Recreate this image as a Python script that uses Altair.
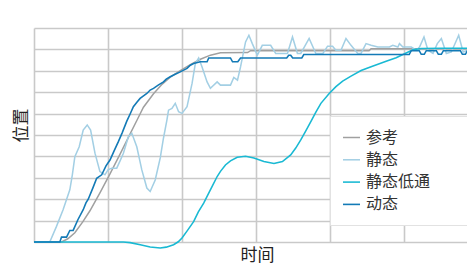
import altair as alt
import pandas as pd

series_names = ["参考", "静态", "静态低通", "动态"]
series_colors = ["#a0a0a0", "#a3cfe4", "#19b9d3", "#137ab6"]
series_widths = [1.5, 1.6, 1.5, 2.5]

ref_t = [0.000, 0.372, 0.457, 0.552, 0.661, 0.756, 0.891, 1.027, 1.163, 1.299, 1.393,
         1.479, 1.615, 1.733, 1.841, 1.977, 2.113, 2.248, 2.384, 2.520, 2.886, 2.927,
         4.528, 4.555, 5.993]
ref_v = [0.00, 0.00, 0.15, 0.43, 0.95, 1.46, 2.30, 3.18, 4.11, 5.05, 5.70,
         6.30, 6.93, 7.38, 7.70, 8.01, 8.29, 8.54, 8.73, 8.84, 8.85, 8.94,
         8.94, 9.03, 9.03]

static_t = [0.000, 0.213, 0.304, 0.393, 0.484, 0.518, 0.552, 0.611, 0.665, 0.719, 0.765,
            0.824, 0.891, 0.959, 1.000, 1.050, 1.118, 1.163, 1.208, 1.275, 1.322, 1.389,
            1.457, 1.525, 1.570, 1.638, 1.706, 1.750, 1.796, 1.818, 1.864, 1.909, 1.954,
            2.000, 2.068, 2.136, 2.180, 2.225, 2.271, 2.339, 2.384, 2.475, 2.520, 2.655,
            2.700, 2.750, 2.791, 2.859, 2.904, 2.950, 3.018, 3.085, 3.198, 3.266, 3.425,
            3.493, 3.560, 3.605, 3.718, 3.809, 3.904, 3.967, 4.035, 4.079, 4.148, 4.216,
            4.284, 4.375, 4.419, 4.487, 4.555, 4.646, 4.803, 4.849, 4.917, 4.939, 4.985,
            5.098, 5.166, 5.210, 5.270, 5.324, 5.392, 5.450, 5.505, 5.572, 5.640, 5.739,
            5.799, 5.867, 5.993]
static_v = [0.00, 0.00, 0.73, 1.51, 2.44, 3.14, 3.99, 4.45, 5.23, 5.47, 5.23,
            4.15, 3.29, 3.14, 3.37, 3.45, 3.45, 3.79, 4.15, 4.92, 5.08, 4.45,
            3.37, 2.52, 2.36, 2.90, 3.93, 4.86, 5.70, 6.16, 6.24, 6.48, 6.09,
            6.01, 6.32, 7.41, 8.34, 8.60, 8.18, 7.48, 7.18, 7.48, 7.33, 7.33,
            7.69, 7.56, 8.18, 9.35, 9.66, 9.27, 8.73, 9.19, 9.19, 8.81, 8.81,
            9.58, 8.81, 8.81, 9.51, 8.81, 8.81, 9.15, 9.15, 8.96, 8.96, 9.51,
            9.19, 8.81, 8.81, 9.27, 9.19, 9.11, 9.11, 9.19, 9.11, 9.27, 9.11,
            9.11, 8.96, 9.11, 9.58, 8.96, 8.81, 9.27, 9.51, 8.81, 8.88, 9.66,
            8.88, 8.96, 9.04]

lowpass_t = [0.000, 1.208, 1.299, 1.436, 1.570, 1.706, 1.787, 1.886, 1.950, 2.000, 2.072,
             2.157, 2.221, 2.293, 2.361, 2.411, 2.475, 2.520, 2.587, 2.655, 2.746, 2.859,
             2.972, 3.107, 3.243, 3.357, 3.469, 3.537, 3.605, 3.673, 3.741, 3.809, 3.877,
             3.989, 4.080, 4.171, 4.284, 4.420, 4.555, 4.759, 4.894, 5.007, 5.121, 5.233,
             5.505, 5.993]
lowpass_v = [0.00, 0.00, -0.03, -0.13, -0.23, -0.28, -0.24, -0.13, 0.01, 0.19, 0.53,
             0.95, 1.41, 1.82, 2.28, 2.62, 3.06, 3.30, 3.60, 3.79, 3.96, 4.01,
             3.93, 3.76, 3.67, 3.76, 4.07, 4.39, 4.77, 5.19, 5.62, 6.07, 6.48,
             6.94, 7.26, 7.52, 7.75, 8.01, 8.19, 8.45, 8.61, 8.80, 8.98, 9.04,
             9.05, 9.05]

dyn_t = [0.000, 0.349, 0.372, 0.440, 0.484, 0.529, 0.593, 0.665, 0.702, 0.733, 0.796,
         0.847, 0.915, 0.973, 1.027, 1.081, 1.140, 1.190, 1.254, 1.299, 1.343, 1.393,
         1.434, 1.475, 1.525, 1.570, 1.615, 1.678, 1.750, 1.787, 1.841, 1.908, 1.977,
         2.068, 2.113, 2.157, 2.248, 2.339, 2.361, 2.655, 2.683, 2.754, 2.791, 3.415,
         3.442, 3.469, 3.496, 3.619, 3.646, 5.070, 5.098, 5.206, 5.233, 5.274, 5.301,
         5.437, 5.464, 5.505, 5.532, 5.762, 5.789, 5.830, 5.857, 5.993]
dyn_v = [0.00, 0.00, 0.23, 0.23, 0.54, 0.54, 1.04, 1.51, 1.83, 2.00, 2.53,
         2.98, 3.14, 3.56, 3.83, 4.25, 4.69, 5.09, 5.65, 5.98, 6.32, 6.54,
         6.71, 6.82, 6.94, 7.10, 7.18, 7.33, 7.48, 7.61, 7.72, 7.84, 7.95,
         8.11, 8.26, 8.34, 8.42, 8.42, 8.60, 8.60, 8.42, 8.42, 8.60, 8.60,
         8.73, 8.73, 8.60, 8.60, 8.76, 8.76, 8.94, 8.94, 8.77, 8.77, 8.94,
         8.94, 8.77, 8.77, 8.94, 8.94, 8.77, 8.77, 8.94, 8.94]

x_grid = [0, 1, 2, 3, 4, 5]
y_grid = [0, 1, 2, 3, 4, 5, 6, 7, 8, 9, 10]

rows = []
for name, ts, vs in [("参考", ref_t, ref_v), ("静态", static_t, static_v),
                     ("静态低通", lowpass_t, lowpass_v), ("动态", dyn_t, dyn_v)]:
    for i, (t, v) in enumerate(zip(ts, vs)):
        rows.append({"series": name, "t": t, "v": v, "i": i})
df = pd.DataFrame(rows)

font = "Noto Sans CJK SC"
# invisible (non-trimmed) filler so the legend panel reaches the right edge
pad_label = "\u2800" * 3

chart = alt.Chart(df).mark_line(clip=False).encode(
    x=alt.X("t:Q", scale=alt.Scale(domain=[0, 433 / 74], nice=False, zero=False),
            axis=alt.Axis(title="时间", values=x_grid, labels=False, ticks=False,
                          domain=False, grid=True, titleFont=font, titleFontSize=17,
                          titleFontWeight="normal", titleColor="#222222",
                          titleX=223, titleY=13, titleBaseline="middle")),
    y=alt.Y("v:Q", scale=alt.Scale(domain=[0, 10], nice=False, zero=False),
            axis=alt.Axis(title="位置", values=y_grid, labels=False, ticks=False,
                          domain=False, grid=True, titleFont=font, titleFontSize=17,
                          titleFontWeight="normal", titleColor="#222222",
                          titleX=-13, titleY=97, titleAngle=270,
                          titleBaseline="middle", titleAlign="center")),
    color=alt.Color("series:N",
                    scale=alt.Scale(domain=series_names, range=series_colors),
                    sort=series_names,
                    legend=alt.Legend(title=None, orient="none", legendX=296, legendY=88,
                                      fillColor="white", strokeColor="#e2e2e2",
                                      padding=12, symbolType="stroke", symbolSize=289,
                                      symbolStrokeWidth=3, labelFont=font,
                                      labelFontSize=16, labelColor="#333333",
                                      labelOffset=5, rowPadding=4.3, labelLimit=400,
                                      labelExpr="datum.label + '" + pad_label + "'")),
    strokeWidth=alt.StrokeWidth("series:N",
                                scale=alt.Scale(domain=series_names, range=series_widths),
                                legend=None),
    order=alt.Order("i:Q"),
).properties(
    width=433, height=214,
    autosize=alt.AutoSizeParams(type="none"),
    padding={"left": 26, "top": 20, "right": 0, "bottom": 22},
    background="white",
).configure_view(stroke=None).configure_axis(
    gridColor="#c9c9c9", gridWidth=1.6
)

chart.save("out.html", embed_options={"renderer": "svg", "actions": False})
